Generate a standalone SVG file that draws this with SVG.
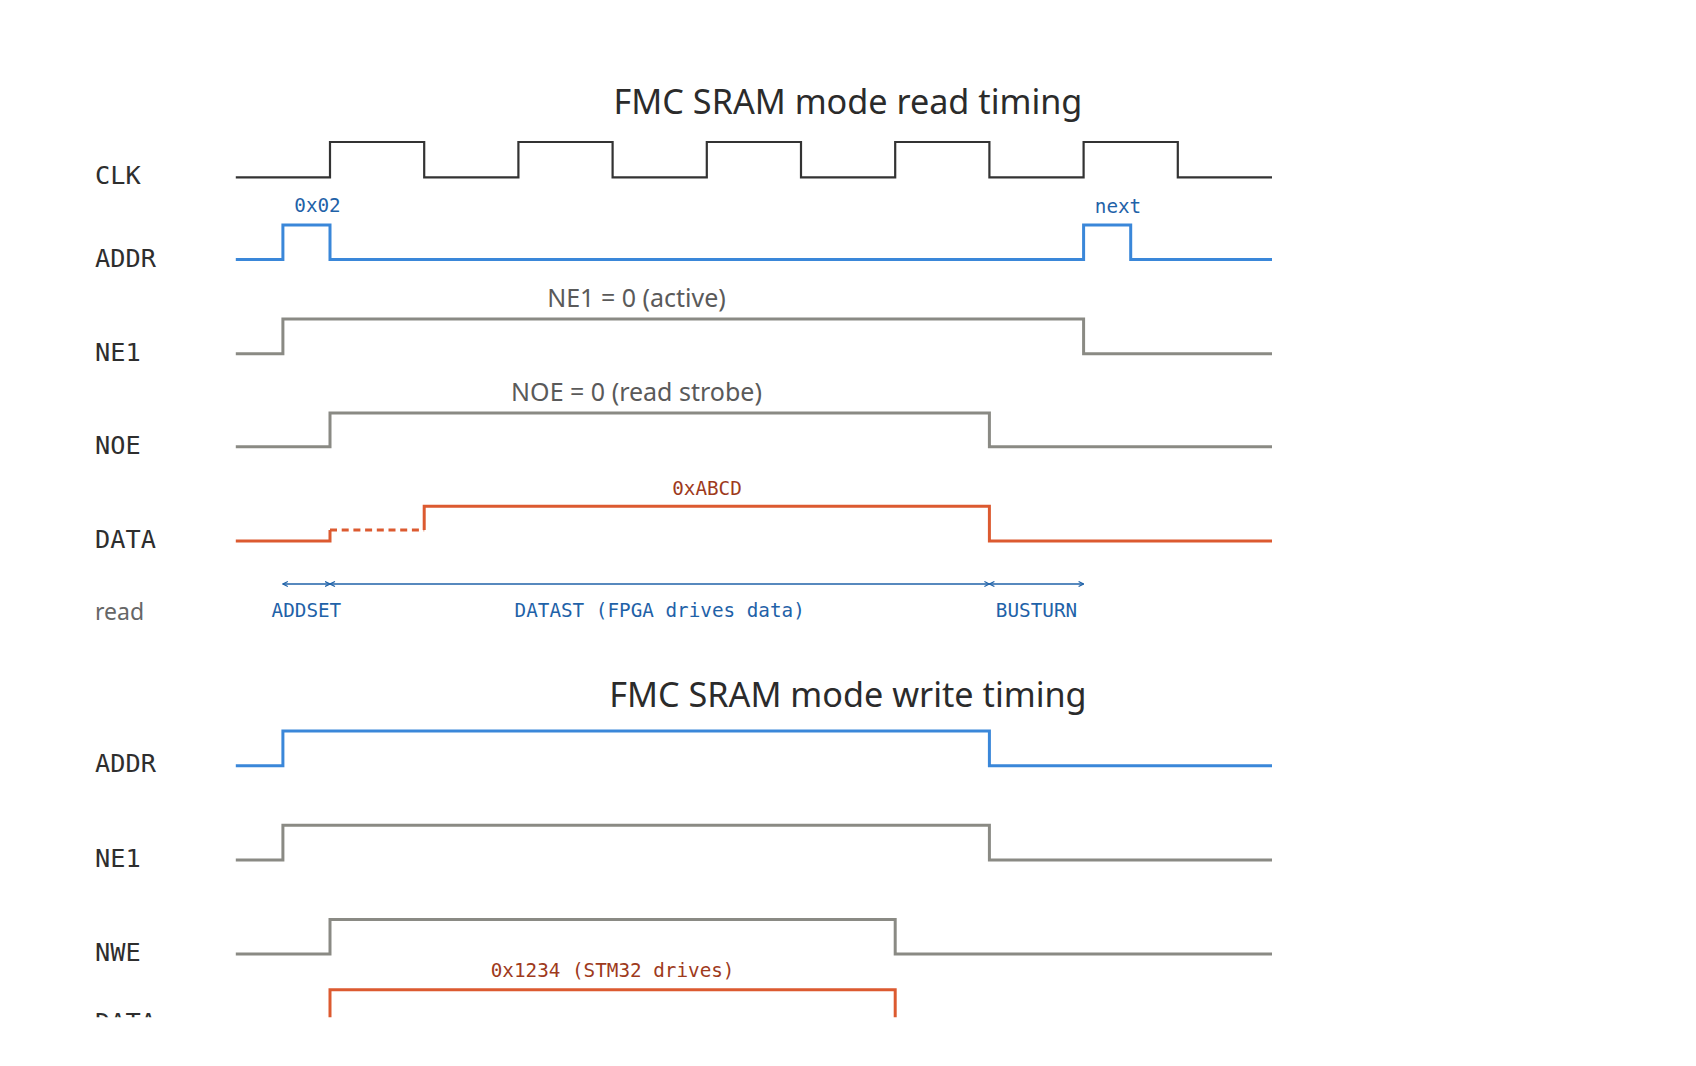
<svg xmlns="http://www.w3.org/2000/svg" width="1696" height="1066" viewBox="0 0 1696 1066">
  <style>
    .title { font-family: "Noto Sans", "Open Sans", sans-serif; font-size: 34.2px; fill: #2b2b2b; text-anchor: middle; }
    .name { font-family: "DejaVu Sans Mono", "Liberation Mono", monospace; font-size: 25.3px; fill: #2e2e2e; }
    .group { font-family: "Noto Sans", "Open Sans", sans-serif; font-size: 23px; fill: #666666; }
    .note { font-family: "Noto Sans", "Open Sans", sans-serif; font-size: 25px; fill: #5a5a5a; text-anchor: middle; }
    .mono { font-family: "DejaVu Sans Mono", "Liberation Mono", monospace; font-size: 19.3px; text-anchor: middle; }
    .blue-t { fill: #1f62a8; }
    .red-t { fill: #9e3a1c; }
    .w { fill: none; stroke-width: 3; stroke-linejoin: miter; stroke-linecap: butt; }
    .clk { stroke: #333333; stroke-width: 2.2; }
    .addr { stroke: #3a87d9; }
    .ctl { stroke: #8a8a84; }
    .data { stroke: #dc5a30; }
    .dash { stroke-dasharray: 7 4.7; }
    .arr { fill: none; stroke: #1f62a8; stroke-width: 1.4; marker-start: url(#ah); marker-end: url(#ah); }
  </style>
  <defs>
    <marker id="ah" viewBox="0 0 6 6" refX="5.5" refY="3" markerWidth="6" markerHeight="6" markerUnits="userSpaceOnUse" orient="auto-start-reverse">
      <path d="M0.5,0.5 L5.5,3 L0.5,5.5" fill="none" stroke="#1f62a8" stroke-width="1.2"/>
    </marker>
    <clipPath id="clip">
      <rect x="0" y="0" width="1696" height="1017.3"/>
    </clipPath>
  </defs>
  <rect x="0" y="0" width="1696" height="1066" fill="#ffffff"/>
  <g clip-path="url(#clip)">
    <g id="read-title">
      <text class="title" x="848" y="113.5">FMC SRAM mode read timing</text>
    </g>
    <g id="read-clk">
      <text class="name" x="95" y="184">CLK</text>
      <path class="w clk" d="M235.8,177.3 H330 V142 H424.2 V177.3 H518.4 V142 H612.6 V177.3 H706.8 V142 H801 V177.3 H895.2 V142 H989.4 V177.3 H1083.6 V142 H1177.8 V177.3 H1272"/>
    </g>
    <g id="read-addr">
      <text class="name" x="95" y="266.7">ADDR</text>
      <path class="w addr" d="M235.8,259.6 H282.9 V225 H330 V259.6 H1083.6 V225 H1130.7 V259.6 H1272"/>
      <text class="mono blue-t" x="317.5" y="212">0x02</text>
      <text class="mono blue-t" x="1118" y="212.5">next</text>
    </g>
    <g id="read-ne1">
      <text class="name" x="95" y="360.5">NE1</text>
      <path class="w ctl" d="M235.8,353.7 H282.9 V319 H1083.6 V353.7 H1272"/>
      <text class="note" x="636.5" y="306.5">NE1 = 0 (active)</text>
    </g>
    <g id="read-noe">
      <text class="name" x="95" y="454">NOE</text>
      <path class="w ctl" d="M235.8,446.7 H330 V413 H989.4 V446.7 H1272"/>
      <text class="note" x="636.5" y="400.7">NOE = 0 (read strobe)</text>
    </g>
    <g id="read-data">
      <text class="name" x="95" y="548.3">DATA</text>
      <path class="w data" d="M235.8,541 H330 V530"/>
      <path class="w data dash" d="M330,530 H424.2"/>
      <path class="w data" d="M424.2,530 V506.2 H989.4 V541 H1272"/>
      <text class="mono red-t" x="707" y="495">0xABCD</text>
    </g>
    <g id="read-phases">
      <text class="group" x="95" y="620">read</text>
      <text class="mono blue-t" x="306.4" y="616.7">ADDSET</text>
      <text class="mono blue-t" x="659.7" y="616.7">DATAST (FPGA drives data)</text>
      <text class="mono blue-t" x="1036.5" y="616.7">BUSTURN</text>
    </g>
    <g id="write-title">
      <text class="title" x="848" y="707">FMC SRAM mode write timing</text>
    </g>
    <g id="write-addr">
      <text class="name" x="95" y="772.3">ADDR</text>
      <path class="w addr" d="M235.8,765.8 H282.9 V731 H989.4 V765.8 H1272"/>
    </g>
    <g id="write-ne1">
      <text class="name" x="95" y="866.7">NE1</text>
      <path class="w ctl" d="M235.8,860 H282.9 V825.3 H989.4 V860 H1272"/>
    </g>
    <g id="write-nwe">
      <text class="name" x="95" y="960.7">NWE</text>
      <path class="w ctl" d="M235.8,954 H330 V919.4 H895.2 V954 H1272"/>
    </g>
    <g id="write-data">
      <text class="name" x="95" y="1031">DATA</text>
      <path class="w data" d="M235.8,1024.3 H330 V989.7 H895.2 V1024.3 H1272"/>
      <text class="mono red-t" x="612.6" y="977">0x1234 (STM32 drives)</text>
    </g>
    <g id="connectors">
      <path class="arr" d="M282.9,584 H330"/>
      <path class="arr" d="M330,584 H989.4"/>
      <path class="arr" d="M989.4,584 H1083.6"/>
    </g>
  </g>
</svg>
